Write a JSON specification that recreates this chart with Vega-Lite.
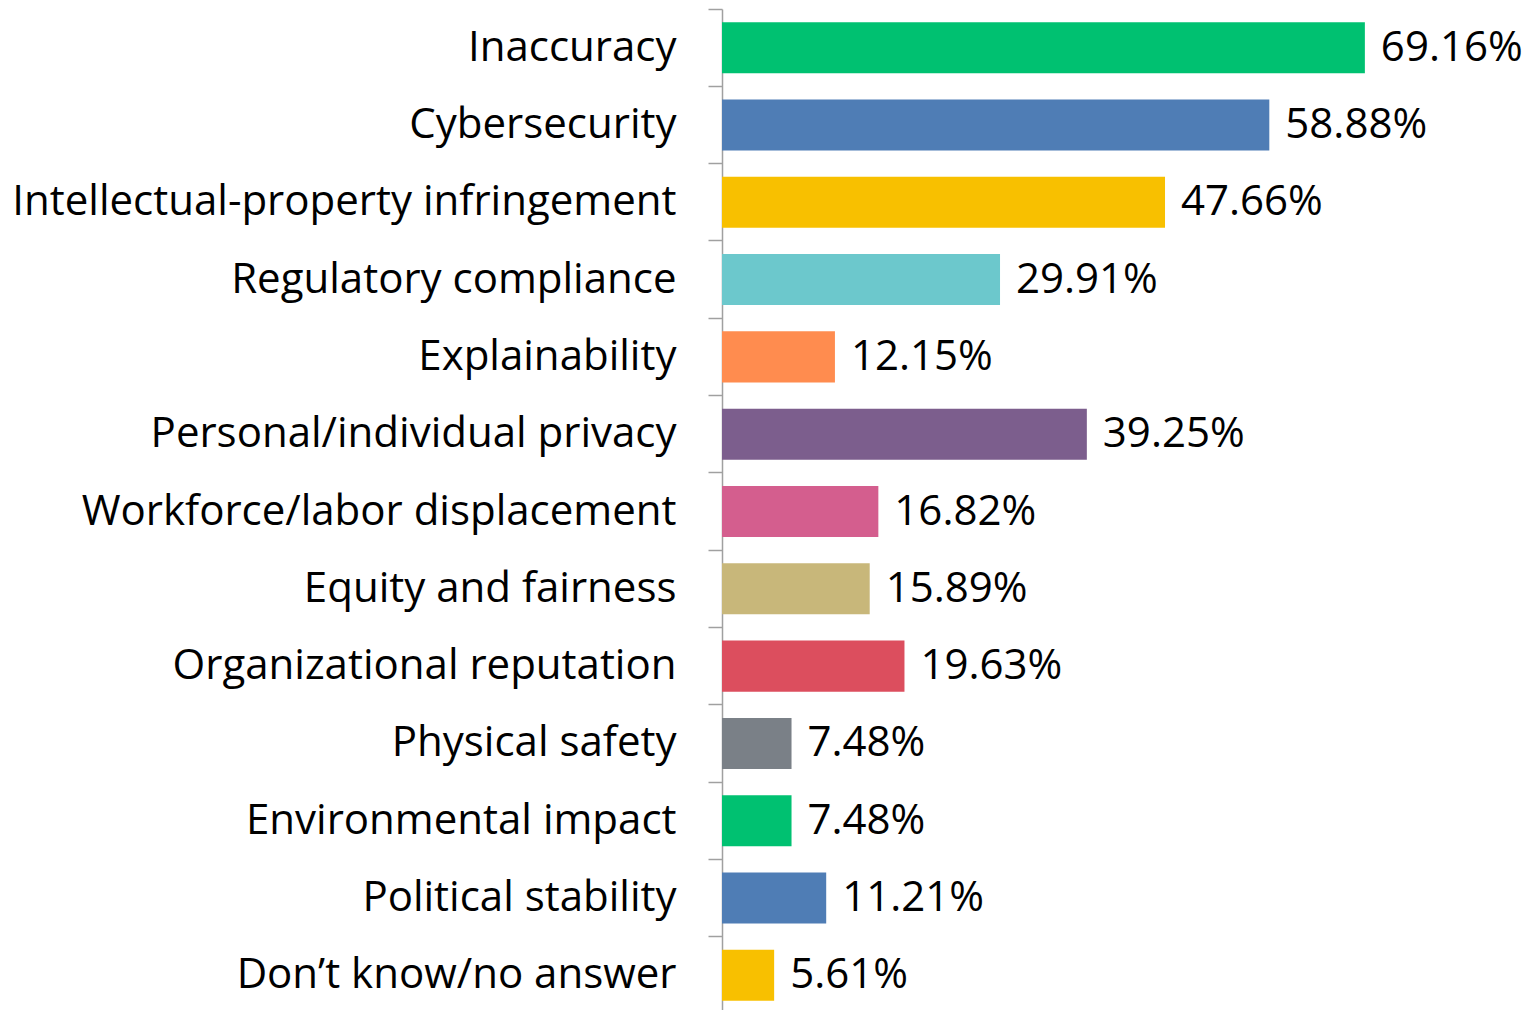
{
  "$schema": "https://vega.github.io/schema/vega-lite/v6.json",
  "autosize": {"type": "none"},
  "width": 818,
  "height": 1005,
  "padding": {"left": 722, "top": 9, "right": 0, "bottom": 0},
  "background": "white",
  "config": {"view": {"stroke": null}, "font": "Open Sans"},
  "data": {
    "values": [
      {"risk": "Inaccuracy", "pct": 69.16, "label": "69.16%", "color": "#00C171"},
      {"risk": "Cybersecurity", "pct": 58.88, "label": "58.88%", "color": "#4F7DB5"},
      {"risk": "Intellectual-property infringement", "pct": 47.66, "label": "47.66%", "color": "#F8C000"},
      {"risk": "Regulatory compliance", "pct": 29.91, "label": "29.91%", "color": "#6CC8CC"},
      {"risk": "Explainability", "pct": 12.15, "label": "12.15%", "color": "#FF8C4F"},
      {"risk": "Personal/individual privacy", "pct": 39.25, "label": "39.25%", "color": "#7C5E8D"},
      {"risk": "Workforce/labor displacement", "pct": 16.82, "label": "16.82%", "color": "#D45E8E"},
      {"risk": "Equity and fairness", "pct": 15.89, "label": "15.89%", "color": "#C8B77A"},
      {"risk": "Organizational reputation", "pct": 19.63, "label": "19.63%", "color": "#DC4E5E"},
      {"risk": "Physical safety", "pct": 7.48, "label": "7.48%", "color": "#7A8087"},
      {"risk": "Environmental impact", "pct": 7.48, "label": "7.48%", "color": "#00C171"},
      {"risk": "Political stability", "pct": 11.21, "label": "11.21%", "color": "#4F7DB5"},
      {"risk": "Don’t know/no answer", "pct": 5.61, "label": "5.61%", "color": "#F8C000"}
    ]
  },
  "encoding": {
    "y": {
      "field": "risk",
      "type": "nominal",
      "sort": null,
      "scale": {"paddingInner": 0, "paddingOuter": 0},
      "axis": {
        "title": null,
        "bandPosition": 0,
        "domainColor": "#A0A0A0",
        "domainWidth": 1.5,
        "tickColor": "#A0A0A0",
        "tickWidth": 1.5,
        "tickSize": 14,
        "labelPadding": 32,
        "labelFontSize": 42,
        "labelColor": "#000000",
        "labelFont": "Open Sans",
        "labelLimit": 800
      }
    },
    "x": {
      "field": "pct",
      "type": "quantitative",
      "scale": {"domain": [0, 88]},
      "axis": null
    }
  },
  "layer": [
    {
      "mark": {"type": "bar", "height": {"band": 0.66}},
      "encoding": {"color": {"field": "color", "type": "nominal", "scale": null}}
    },
    {
      "mark": {"type": "text", "align": "left", "baseline": "middle", "dx": 16, "fontSize": 42, "color": "#000000", "font": "Open Sans"},
      "encoding": {"text": {"field": "label", "type": "nominal"}}
    }
  ]
}
